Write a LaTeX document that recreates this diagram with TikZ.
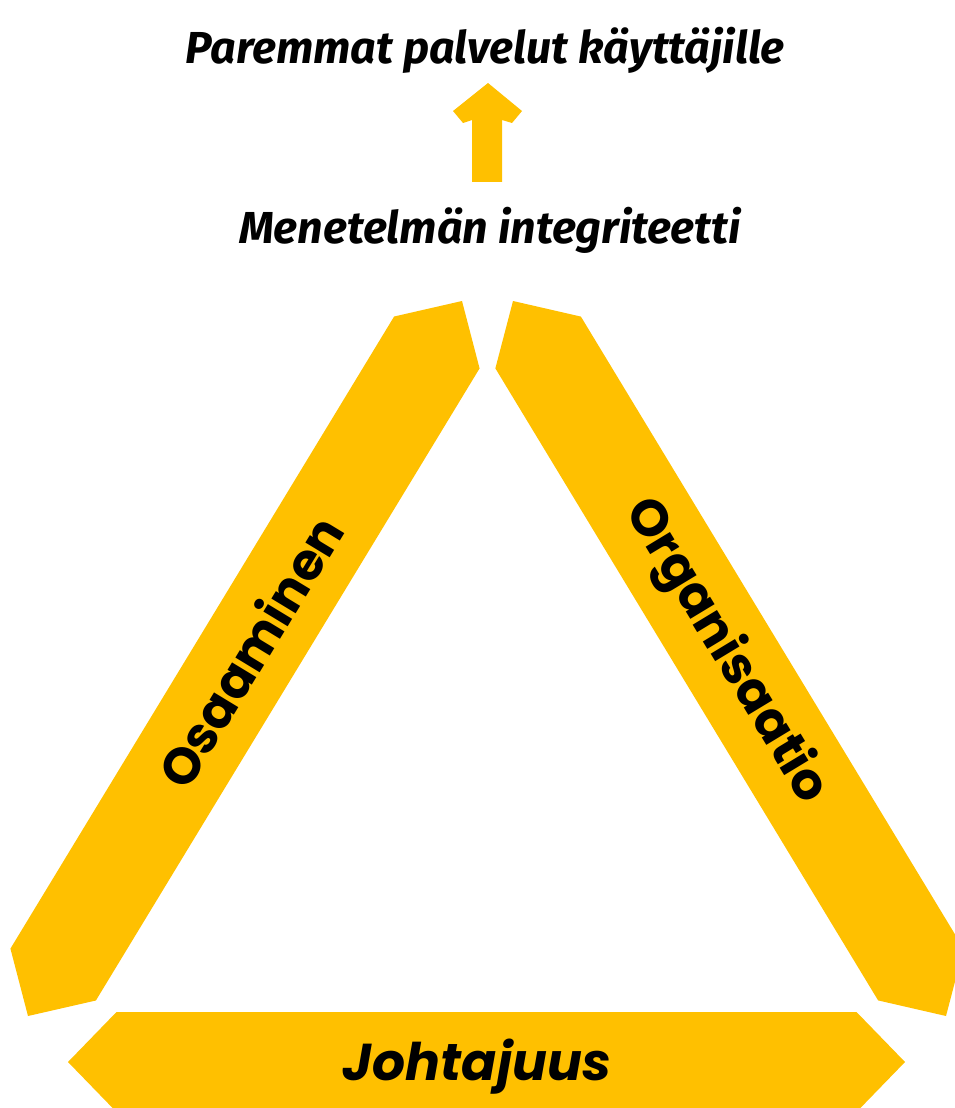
\documentclass[tikz,border=0pt]{standalone}
\usepackage{fontspec}
\usepackage{tikz}
\usetikzlibrary{calc}
\newfontfamily\headfont{Fira Sans}
\newfontfamily\bandfont{Poppins}
\definecolor{bandyellow}{RGB}{255,192,0}
\tikzset{
  band/.style={fill=bandyellow, draw=none},
  headtext/.style={font=\headfont\bfseries\itshape\fontsize{25.5}{30}\selectfont, anchor=base, inner sep=0pt},
  bandtext/.style={font=\bandfont\bfseries\fontsize{29}{35}\selectfont, inner sep=0pt, text=black},
  jotext/.style={font=\bandfont\bfseries\itshape\fontsize{29.5}{35}\selectfont, anchor=base, inner sep=0pt}
}

\begin{document}
\begin{tikzpicture}[x=0.02cm, y=-0.02cm]
  \useasboundingbox (0,0) rectangle (955,1108);
  % headings
  \node[headtext] (goal) at (485,64) {Paremmat palvelut käyttäjille};
  \node[headtext] (core) at (490,243) {Menetelmän integriteetti};
  % arrow between them
  \fill[band] (488,83) -- (522,111) -- (512,123) -- (502,120) -- (502,182)
    -- (472,182) -- (472,120) -- (463,123) -- (453,111) -- cycle;
  % band end points
  \coordinate (A) at (462,301);
  \coordinate (B) at (28,1016);
  \coordinate (C) at (513,301);
  \coordinate (D) at (946,1016);
  \coordinate (E) at (68,1062);
  \coordinate (F) at (905,1062);
  % the three bands
  \foreach \p/\q in {A/B, C/D, E/F}
    \fill[band] (\p) -- ($(\p)!0.97cm!(\q)!1cm!90:(\q)$) -- ($(\q)!0.97cm!(\p)!1cm!-90:(\p)$)
      -- (\q) -- ($(\q)!0.97cm!(\p)!1cm!90:(\p)$) -- ($(\p)!0.97cm!(\q)!1cm!-90:(\q)$) -- cycle;
  % labels on the bands
  \path (B) -- node[bandtext, sloped, pos=0.51] (osa) {Osaaminen} (A);
  \path (C) -- node[bandtext, sloped, pos=0.49] (org) {Organisaatio} (D);
  \node[jotext] (joh) at (477,1080) {Johtajuus};
\end{tikzpicture}
\end{document}
